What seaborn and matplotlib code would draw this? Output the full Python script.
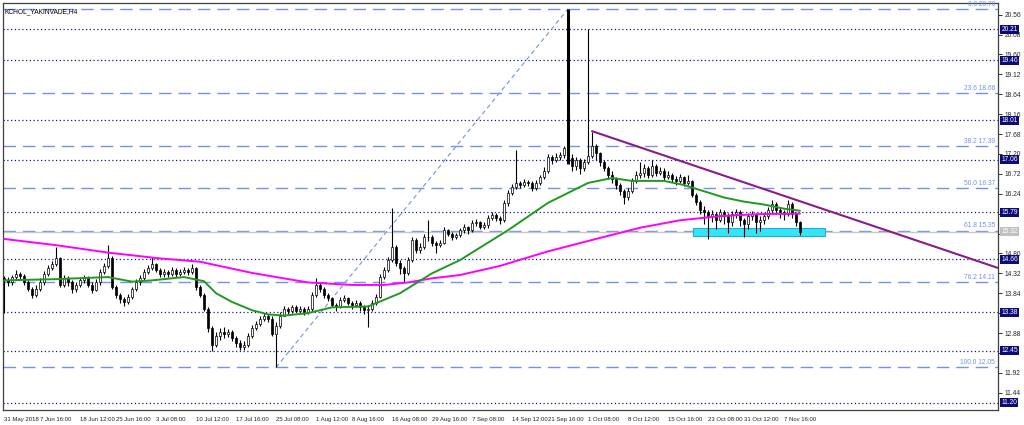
import numpy as np
import pandas as pd
import seaborn as sns
import matplotlib.pyplot as plt
from matplotlib.patches import Rectangle
import matplotlib.transforms as mtransforms

# H4 candles (close, high, low); open = previous close
closes = [
    14.16, 14.10, 14.22, 14.30, 14.25, 14.10, 13.95, 13.80, 13.95, 14.10,
    14.30, 14.45, 14.55, 14.70, 14.05, 14.20, 14.10, 13.95, 14.05, 14.15,
    14.20, 14.05, 13.92, 14.10, 14.35, 14.50, 14.70, 14.00, 13.80, 13.70,
    13.62, 13.75, 13.95, 14.10, 14.20, 14.35, 14.45, 14.55, 14.40, 14.30,
    14.35, 14.30, 14.40, 14.30, 14.35, 14.40, 14.35, 14.45, 14.00, 13.80,
    13.45, 13.00, 12.60, 12.80, 12.90, 12.85, 12.90, 12.75, 12.65, 12.55,
    12.60, 12.80, 13.00, 13.10, 13.22, 13.30, 13.22, 12.85, 13.05, 13.30,
    13.45, 13.40, 13.50, 13.42, 13.45, 13.38, 13.45, 13.80, 14.05, 13.95,
    13.80, 13.73, 13.56, 13.50, 13.68, 13.72, 13.60, 13.55, 13.60, 13.50,
    13.43, 13.45, 13.60, 13.75, 14.23, 14.40, 14.64, 14.95, 14.56, 14.45,
    14.33, 14.65, 15.12, 14.88, 14.95, 15.19, 15.20, 15.05, 15.00, 15.05,
    15.36, 15.28, 15.20, 15.24, 15.36, 15.43, 15.36, 15.53, 15.56, 15.43,
    15.48, 15.65, 15.72, 15.65, 15.60, 16.02, 16.26, 16.40, 16.49, 16.45,
    16.52, 16.50, 16.38, 16.50, 16.64, 16.80, 17.12, 17.05, 17.12, 17.17,
    17.34, 17.10, 16.90, 17.05, 16.85, 17.00, 17.15, 17.40, 17.22, 17.00,
    16.85, 16.70, 16.60, 16.45, 16.30, 16.15, 16.30, 16.55, 16.70, 16.75,
    16.85, 16.70, 16.90, 16.75, 16.80, 16.65, 16.70, 16.60, 16.55, 16.65,
    16.50, 16.55, 16.20, 16.05, 15.85, 15.80, 15.70, 15.75, 15.60, 15.80,
    15.70, 15.55, 15.75, 15.80, 15.60, 15.50, 15.70, 15.75, 15.55, 15.60,
    15.70, 15.85, 16.00, 15.85, 15.80, 15.75, 16.00, 15.75, 15.55, 15.32,
]
highs = [
    14.25, 14.22, 14.28, 14.40, 14.35, 14.30, 14.15, 14.00, 14.05, 14.20,
    14.38, 14.52, 14.62, 14.95, 14.72, 14.28, 14.25, 14.15, 14.12, 14.22,
    14.28, 14.25, 14.10, 14.18, 14.42, 14.58, 15.00, 14.75, 14.05, 13.85,
    13.75, 13.82, 14.00, 14.18, 14.28, 14.42, 14.52, 14.72, 14.58, 14.45,
    14.42, 14.40, 14.48, 14.45, 14.42, 14.48, 14.46, 14.55, 14.48, 14.05,
    13.85, 13.50, 13.05, 12.90, 13.00, 13.02, 12.98, 12.95, 12.80, 12.70,
    12.68, 12.88, 13.08, 13.18, 13.30, 13.36, 13.35, 13.28, 13.15, 13.38,
    13.52, 13.50, 13.55, 13.55, 13.52, 13.50, 13.52, 13.88, 14.20, 14.10,
    13.98, 13.85, 13.75, 13.60, 13.75, 13.80, 13.75, 13.65, 13.68, 13.65,
    13.55, 13.55, 13.68, 13.82, 14.30, 14.48, 14.72, 15.90, 15.00, 14.65,
    14.50, 14.72, 15.20, 15.18, 15.05, 15.28, 15.60, 15.25, 15.10, 15.12,
    15.43, 15.40, 15.32, 15.30, 15.42, 15.50, 15.45, 15.60, 15.64, 15.58,
    15.55, 15.72, 15.80, 15.78, 15.70, 16.10, 16.32, 16.48, 17.30, 16.55,
    16.60, 16.58, 16.55, 16.56, 16.70, 16.88, 17.20, 17.18, 17.22, 17.25,
    17.40, 20.70, 17.20, 17.12, 17.10, 17.08, 20.21, 17.72, 17.45, 17.25,
    17.05, 16.90, 16.78, 16.65, 16.50, 16.35, 16.38, 16.62, 16.80, 17.00,
    16.95, 16.90, 17.05, 16.95, 16.88, 16.85, 16.78, 16.75, 16.68, 16.72,
    16.68, 16.70, 16.58, 16.25, 16.10, 15.95, 15.85, 15.85, 15.80, 15.88,
    15.85, 15.78, 15.82, 15.88, 15.85, 15.65, 15.78, 15.82, 15.78, 15.70,
    15.78, 15.92, 16.10, 16.05, 15.90, 15.85, 16.10, 16.05, 15.80, 15.58,
]
lows = [
    13.36, 14.02, 14.05, 14.18, 14.15, 14.05, 13.90, 13.72, 13.76, 13.90,
    14.05, 14.25, 14.40, 14.50, 14.00, 14.00, 14.02, 13.85, 13.88, 14.00,
    14.08, 13.98, 13.85, 13.90, 14.05, 14.30, 14.45, 13.95, 13.72, 13.60,
    13.52, 13.58, 13.70, 13.90, 14.05, 14.15, 14.30, 14.40, 14.35, 14.22,
    14.22, 14.24, 14.26, 14.24, 14.26, 14.30, 14.28, 14.30, 13.92, 13.74,
    13.40, 12.90, 12.45, 12.55, 12.72, 12.75, 12.78, 12.68, 12.55, 12.48,
    12.47, 12.55, 12.75, 12.95, 13.05, 13.18, 13.15, 12.80, 12.05, 13.00,
    13.28, 13.35, 13.36, 13.38, 13.38, 13.32, 13.34, 13.42, 13.75, 13.88,
    13.72, 13.65, 13.50, 13.42, 13.48, 13.62, 13.55, 13.45, 13.50, 13.42,
    13.35, 13.03, 13.40, 13.55, 13.72, 14.18, 14.35, 14.60, 14.50, 14.30,
    14.10, 14.28, 14.60, 14.80, 14.82, 14.90, 15.10, 14.98, 14.80, 14.95,
    15.02, 15.22, 15.12, 15.15, 15.20, 15.30, 15.28, 15.32, 15.45, 15.38,
    15.38, 15.42, 15.60, 15.58, 15.52, 15.55, 15.95, 16.20, 16.35, 16.38,
    16.40, 16.42, 16.30, 16.34, 16.45, 16.60, 16.75, 16.95, 17.00, 17.05,
    17.10, 16.95, 16.78, 16.82, 16.72, 16.80, 16.95, 17.10, 17.05, 16.90,
    16.80, 16.60, 16.50, 16.35, 16.20, 16.00, 16.10, 16.25, 16.50, 16.62,
    16.65, 16.62, 16.65, 16.68, 16.70, 16.58, 16.60, 16.52, 16.45, 16.50,
    16.42, 16.45, 16.15, 15.98, 15.75, 15.50, 15.15, 15.55, 15.40, 15.55,
    15.50, 15.30, 15.45, 15.65, 15.45, 15.20, 15.40, 15.60, 15.30, 15.35,
    15.50, 15.62, 15.80, 15.75, 15.65, 15.60, 15.70, 15.65, 15.45, 15.25,
]
first_open = 14.20

# moving averages (read at sample bars)
ma_fast_bar = [0, 13, 26, 32, 37, 45, 50, 53, 57, 62, 66, 70, 76, 82, 91, 93, 99,
               103, 107, 114, 126, 136, 146, 152, 157, 165, 170, 175, 180, 185, 190, 195, 199]
ma_fast_val = [14.15, 14.18, 14.23, 14.12, 14.15, 14.23, 14.13, 13.84, 13.63, 13.43, 13.33,
               13.30, 13.36, 13.50, 13.52, 13.60, 13.84, 14.08, 14.32, 14.64, 15.36, 16.02,
               16.50, 16.62, 16.55, 16.55, 16.45, 16.30, 16.15, 16.05, 15.98, 15.88, 15.83]
ma_slow_bar = [0, 13, 26, 39, 49, 62, 76, 87, 95, 101, 107, 114, 124, 136, 148,
               159, 169, 179, 189, 199]
ma_slow_val = [15.15, 15.00, 14.82, 14.68, 14.60, 14.33, 14.10, 14.04, 14.04, 14.10, 14.20,
               14.28, 14.50, 14.85, 15.15, 15.42, 15.60, 15.70, 15.75, 15.76]

# horizontal levels
sr_levels = [20.21, 19.46, 18.01, 17.06, 15.79, 14.66, 13.38, 12.45, 11.20]
fib_pct = ["0.0", "23.6", "38.2", "50.0", "61.8", "76.2", "100.0"]
fib_levels = [20.70, 18.66, 17.39, 16.37, 15.35, 14.11, 12.05]
last_price = 15.32
fib_anchor_bar = [68, 141]
fib_anchor_price = [12.05, 20.70]
trend_bar = [147, 248.5]
trend_price = [17.75, 14.45]
zone_bar = [172.25, 205.25]
zone_price = [15.22, 15.41]

price_ticks = [20.56, 20.08, 19.60, 19.12, 18.64, 18.16, 17.68, 17.20, 16.72, 16.24,
               15.76, 15.28, 14.80, 14.32, 13.84, 13.36, 12.88, 12.40, 11.92, 11.44]
# labels hidden behind the level boxes in the original
price_tick_text = ["20.56", "20.08", "19.60", "19.12", "18.64", "18.16", "17.68", "17.20",
                   "16.72", "16.24", "", "", "14.80", "14.32", "13.84", "", "12.88", "",
                   "11.92", "11.44"]
date_bars = [0, 9, 19, 28, 38, 48, 58, 68, 78, 87, 97, 107, 117, 127, 136, 146, 156,
             166, 176, 185, 195]
date_labels = ["31 May 2018", "7 Jun 16:00", "18 Jun 12:00", "25 Jun 16:00", "3 Jul 08:00",
               "10 Jul 12:00", "17 Jul 16:00", "25 Jul 08:00", "1 Aug 12:00", "8 Aug 16:00",
               "16 Aug 08:00", "29 Aug 16:00", "7 Sep 08:00", "14 Sep 12:00", "21 Sep 16:00",
               "1 Oct 08:00", "8 Oct 12:00", "15 Oct 16:00", "23 Oct 08:00", "31 Oct 12:00",
               "7 Nov 16:00"]

df = pd.DataFrame({"close": closes, "high": highs, "low": lows})
df["open"] = df["close"].shift(1).fillna(first_open)
df["bar"] = np.arange(len(df))
bull = df["close"] >= df["open"]

sns.set_style("white")
plt.rcParams["font.family"] = ["Liberation Sans", "DejaVu Sans"]
fs = 4.8

fig = plt.figure(figsize=(10.24, 4.25), dpi=100)
ax = fig.add_axes([3 / 1024, 15 / 425, 995 / 1024, 407 / 425])
ax.set_xlim(-0.25, 248.5)
ax.set_ylim(11.023, 20.842)

navy = "#1a1a8c"
fibc = "#7393e6"

# levels
for lv in sr_levels:
    ax.axhline(lv, color=navy, lw=0.9, ls=(0, (1, 2)), zorder=1)
for lv in fib_levels:
    ax.axhline(lv, color=fibc, lw=1.0, ls=(0, (9, 5)), zorder=1)
ax.axhline(last_price, color="#c8c8c8", lw=1.0, zorder=1)

# support zone
ax.add_patch(Rectangle((zone_bar[0], zone_price[0]), zone_bar[1] - zone_bar[0],
                       zone_price[1] - zone_price[0], fc="#33e6f5", ec="#2aa8d8",
                       lw=0.8, zorder=2))

# fib diagonal and trendline
ax.plot(fib_anchor_bar, fib_anchor_price, color=fibc, lw=0.8, ls=(0, (4, 3)), zorder=2)
ax.plot(trend_bar, trend_price, color="#8b1a8b", lw=1.5, zorder=5)

# candles (the big spike bar is drawn heavier, as in the original)
wick_w = np.where(df["high"] > 20.5, 2.2, 0.8)
ax.vlines(df["bar"], df["low"], df["high"], color="black", lw=wick_w, zorder=3)
body_lo = df[["open", "close"]].min(axis=1)
body_h = (df["close"] - df["open"]).abs().clip(lower=0.01)
ax.bar(df["bar"][bull], body_h[bull], bottom=body_lo[bull], width=0.6,
       color="white", edgecolor="black", lw=0.5, zorder=4)
ax.bar(df["bar"][~bull], body_h[~bull], bottom=body_lo[~bull], width=0.6,
       color="black", edgecolor="black", lw=0.5, zorder=4)

# moving averages
sns.lineplot(x=ma_slow_bar, y=ma_slow_val, ax=ax, color="#ff00ff", lw=1.4, zorder=4)
sns.lineplot(x=ma_fast_bar, y=ma_fast_val, ax=ax, color="#1f9a1f", lw=1.4, zorder=4)

# fib labels
for pct, lv in zip(fib_pct, fib_levels):
    ax.text(247.8, lv + 0.03, f"{pct} {lv:.2f}", color=fibc, fontsize=fs,
            ha="right", va="bottom", zorder=6)

# axes styling
ax.yaxis.tick_right()
ax.set_yticks(price_ticks)
ax.set_yticklabels(price_tick_text)
ax.set_xticks(date_bars)
ax.set_xticklabels(date_labels, ha="left")
ax.tick_params(axis="both", labelsize=fs, length=3, width=0.7, color="#303030",
               direction="out", pad=1.5)
ax.tick_params(axis="x", pad=2, labelsize=4.3)
for s in ax.spines.values():
    s.set_color("#404040")
    s.set_linewidth(0.9)
ax.set_xlabel("")
ax.set_ylabel("")

# price boxes on the right axis
trans = mtransforms.blended_transform_factory(ax.transAxes, ax.transData)
for lv in sr_levels:
    ax.text(1.0035, lv, f"{lv:.2f}", transform=trans, fontsize=fs, color="white",
            va="center", ha="left", clip_on=False, zorder=10,
            bbox=dict(boxstyle="square,pad=0.15", fc="#0a0a78", ec="none"))
ax.text(1.0035, last_price, f"{last_price:.2f}", transform=trans, fontsize=fs,
        color="white", va="center", ha="left", clip_on=False, zorder=10,
        bbox=dict(boxstyle="square,pad=0.15", fc="#c0c0c0", ec="none"))

ax.text(0.002, 0.988, "KCHOL_YAKINVADE,H4", transform=ax.transAxes, fontsize=fs,
        color="black", ha="left", va="top")

fig.savefig("out.png", dpi=100)
